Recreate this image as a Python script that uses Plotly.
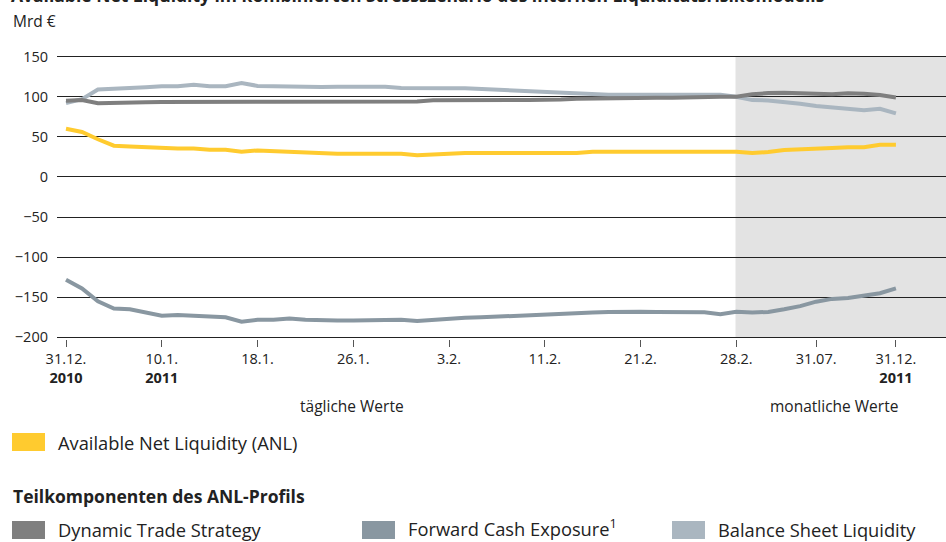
import plotly.graph_objects as go

# ---------------- data ----------------
tick_idx = [0, 6, 12, 18, 24, 30, 36, 42, 47, 52]
tick_text = ["31.12.<br><b>2010</b>", "10.1.<br><b>2011</b>", "18.1.", "26.1.", "3.2.",
             "11.2.", "21.2.", "28.2.", "31.07.", "31.12.<br><b>2011</b>"]
monthly_start = 42  # index of 28.2. (start of monthly values)

anl = [60, 56, 47, 39, 38, 37, 36, 35.5, 35.5, 34, 34, 31.5, 33, 32, 31.5, 30.5, 29.5, 29, 29, 29,
       29, 29, 27, 28, 29.5, 30, 30, 30, 30, 30, 30, 30, 30, 31.5, 31.5, 31.5, 31.5, 31.5, 31.5, 31.5,
       31.5, 31.5, 31.5, 30, 31, 33.5, 34, 35.5, 36, 37, 37, 40, 40]
dts = [95, 96, 92, 92, 92.5, 93, 93.5, 93.75, 93.75, 93.75, 93.75, 93.75, 93.75, 93.75, 93.75, 93.75,
       93.75, 93.75, 93.75, 93.75, 93.75, 93.75, 94, 95.5, 95.8, 95.8, 95.8, 95.8, 95.8, 95.8, 95.8,
       96.5, 97.5, 98, 98.3, 98.5, 98.75, 98.75, 98.75, 99.5, 100, 100, 100, 103, 104.5, 105, 104.2,
       103.75, 103, 104.2, 103.75, 102, 99]
fce = [-128, -139, -155, -164, -165, -169, -173, -172, -173, -175, -175, -180.5, -178, -178, -176.5,
       -178, -179, -179, -179, -179, -178, -178, -179.5, -178, -176.5, -175.5, -175, -174, -173, -172,
       -171, -170, -169, -169, -168.5, -168, -168, -168.5, -168.75, -168.75, -168.75, -171, -168,
       -169, -168.3, -165, -161, -155.5, -152, -151, -148.5, -145, -139]
bsl = [92, 97, 109, 109.6, 110.5, 111.7, 113, 113, 115, 113, 113, 117, 113.5, 113, 113, 113, 112,
       112.5, 112.5, 112.5, 112.5, 111, 110.5, 110.5, 110.5, 110.5, 109.5, 108.5, 107.5, 106.5, 105.5,
       104.5, 103.5, 103, 102.5, 102.5, 102.5, 102.5, 102.5, 102.5, 102.5, 102.5, 100, 95.8, 95.4,
       93.75, 91.25, 88.3, 86.7, 85.4, 83.3, 85, 79.2]
idx = list(range(len(anl)))

names = ["Available Net Liquidity (ANL)", "Dynamic Trade Strategy", "Forward Cash Exposure<sup>1</sup>",
         "Balance Sheet Liquidity"]
colors = {"anl": "#FFCB2F", "dts": "#7F7F7F", "fce": "#8997A1", "bsl": "#AAB6C0"}

# ---------------- layout helpers ----------------
W, H = 946, 542
L, R, T, B = 57, 0, 55, 203
PW, PH = W - L - R, H - T - B
X_RANGE = [(57 - 66) / 15.96, (946 - 66) / 15.96]
Y_RANGE = [-202, 152]


def px(x):
    return (x - L) / PW


def py(y):
    return (H - B - y) / PH


FONT = "Open Sans"
TXT = "#222222"

fig = go.Figure()
for key, series in [("bsl", bsl), ("dts", dts), ("fce", fce), ("anl", anl)]:
    fig.add_trace(go.Scatter(x=idx, y=series, mode="lines",
                             line=dict(color=colors[key], width=4),
                             showlegend=False, hoverinfo="skip"))

shapes = [dict(type="rect", xref="x", yref="y", x0=monthly_start - 0.05, x1=X_RANGE[1],
               y0=-200, y1=150, fillcolor="#E3E3E3", line=dict(width=0), layer="below")]

annotations = [
    dict(text="<b>Available Net Liquidity im kombinierten Stressszenario des internen Liquiditätsrisikomodells</b>",
         x=px(9), y=py(9), xanchor="left", yanchor="bottom", font=dict(size=17.5, color=TXT)),
    dict(text="Mrd €", x=px(11), y=py(21), xanchor="left", yanchor="middle", font=dict(size=15.5, color=TXT)),
    dict(text="tägliche Werte", x=px(352), y=py(406), xanchor="center", yanchor="middle",
         font=dict(size=15.5, color=TXT)),
    dict(text="monatliche Werte", x=px(834), y=py(406), xanchor="center", yanchor="middle",
         font=dict(size=15.5, color=TXT)),
    dict(text="<b>Teilkomponenten des ANL-Profils</b>", x=px(11), y=py(496), xanchor="left",
         yanchor="middle", font=dict(size=17.5, color=TXT)),
]

legend_items = [
    (names[0], colors["anl"], 12, 442, 442),
    (names[1], colors["dts"], 12, 530, 529),
    (names[2], colors["fce"], 362, 530, 527),
    (names[3], colors["bsl"], 672, 530, 529),
]
for label, col, x0, yc, ytxt in legend_items:
    shapes.append(dict(type="rect", xref="paper", yref="paper", x0=px(x0), x1=px(x0 + 33),
                       y0=py(yc + 9), y1=py(yc - 9), fillcolor=col, line=dict(width=0)))
    annotations.append(dict(text=label, x=px(x0 + 44), y=py(ytxt), xanchor="left", yanchor="middle",
                            font=dict(size=18.3, color=TXT)))

for a in annotations:
    a.update(xref="paper", yref="paper", showarrow=False)

fig.update_layout(
    width=W, height=H,
    margin=dict(l=L, r=R, t=T, b=B, pad=0),
    paper_bgcolor="white", plot_bgcolor="white",
    font=dict(family=FONT, color=TXT),
    shapes=shapes, annotations=annotations,
    showlegend=False,
    xaxis=dict(range=X_RANGE, tickmode="array", tickvals=tick_idx, ticktext=tick_text,
               showgrid=False, zeroline=False, ticks="outside", ticklen=7, tickcolor="#555555",
               tickfont=dict(size=14.5, color=TXT), showline=False, fixedrange=True),
    yaxis=dict(range=Y_RANGE, tickmode="array", tickvals=[150, 100, 50, 0, -50, -100, -150, -200],
               showgrid=True, gridcolor="#222222", gridwidth=1, zeroline=True, zerolinecolor="#222222",
               zerolinewidth=1, tickfont=dict(size=14.5, color=TXT), ticklabelstandoff=8,
               showline=False, fixedrange=True),
)

fig.write_html("out.html", config={"displayModeBar": False},
               post_script="document.body.style.margin='0';document.body.style.padding='0';"
                           "document.body.style.overflow='hidden';")
